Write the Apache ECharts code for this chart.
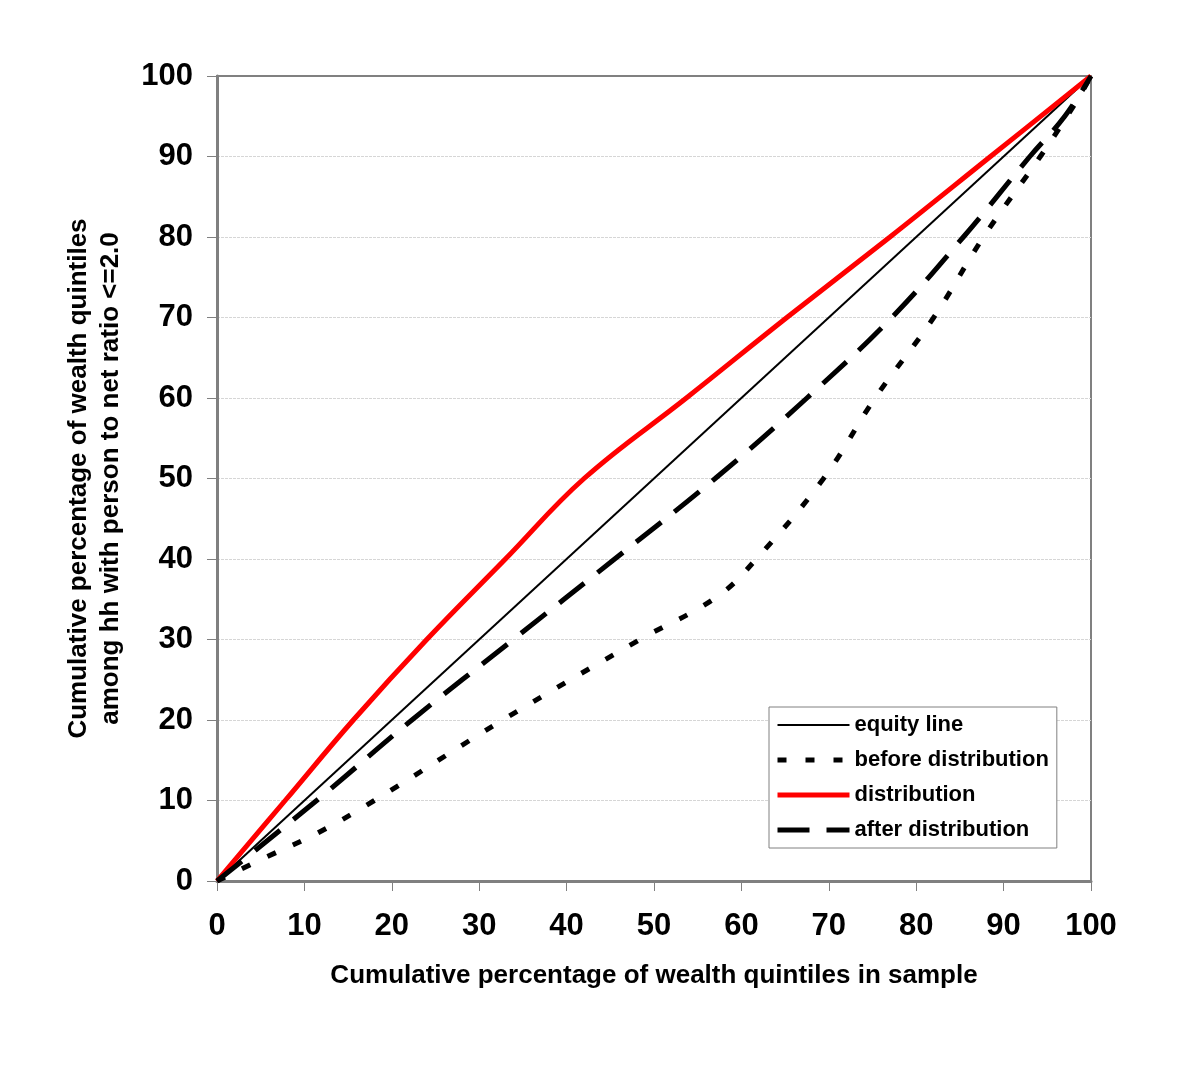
<!DOCTYPE html>
<html>
<head>
<meta charset="utf-8">
<script src="https://cdn.jsdelivr.net/npm/echarts@6/dist/echarts.min.js"></script>
<style>
html,body{margin:0;padding:0;background:#fff;}
#chart{width:1200px;height:1073px;}
</style>
</head>
<body>
<div id="chart"></div>
<script>
var seriesNames = ['equity line', 'before distribution', 'distribution', 'after distribution'];
var xTicks = [0, 10, 20, 30, 40, 50, 60, 70, 80, 90, 100];
var equityLine = [[0, 0], [100, 100]];
var beforeDistribution = [[0, 0], [5.7, 3], [11.4, 5.9], [18, 10], [32.7, 20], [48.4, 30], [57.2, 35.3], [61.7, 40], [69.4, 50], [75.3, 60], [82, 70], [87.7, 80], [94.2, 90], [98.2, 96.6], [100, 100]];
var distribution = [[0, 0], [7.8, 10], [15.6, 20], [24, 30], [33, 40], [42, 50], [53.7, 60], [65.2, 70], [77, 80], [88.5, 90], [100, 100]];
var afterDistribution = [[0, 0], [11.4, 10], [22.3, 20], [33.9, 30], [45.5, 40], [57, 50], [67.5, 60], [77.2, 70], [85.4, 80], [93, 90], [97, 95], [100, 100]];

var FONT = "'Liberation Sans', Arial, sans-serif";
var chart = echarts.init(document.getElementById('chart'));

var styles = [
  { color: '#000', width: 2, type: 'solid' },
  { color: '#000', width: 5, type: [9, 19], cap: 'butt' },
  { color: '#ff0000', width: 5, type: 'solid' },
  { color: '#000', width: 5, type: [32, 17], cap: 'butt' }
];

function axisCommon() {
  return {
    type: 'value', min: 0, max: 100, interval: 10,
    axisLine: { show: true, lineStyle: { color: '#808080', width: 3 } },
    axisTick: { show: true, length: 10, lineStyle: { color: '#808080', width: 1 } },
    axisLabel: { color: '#000', fontFamily: FONT, fontWeight: 'bold', fontSize: 31 },
    nameLocation: 'middle',
    nameTextStyle: { color: '#000', fontFamily: FONT, fontWeight: 'bold', fontSize: 26 }
  };
}

var xAxis = axisCommon();
xAxis.name = 'Cumulative percentage of wealth quintiles in sample';
xAxis.nameGap = 82;
xAxis.axisLabel.margin = 30;
xAxis.splitLine = { show: false };

var yAxis = axisCommon();
yAxis.name = 'Cumulative percentage of wealth quintiles\namong hh with person to net ratio <=2.0';
yAxis.nameGap = 90;
yAxis.nameTextStyle.lineHeight = 32;
yAxis.axisLabel.margin = 24;
yAxis.splitLine = { show: true, showMinLine: false, showMaxLine: false, lineStyle: { color: '#d6d6d6', width: 1, type: [3, 1] } };

var legendData = seriesNames.map(function (n, i) {
  return { name: n, lineStyle: styles[i], itemStyle: { color: 'transparent', borderWidth: 0, opacity: 0 } };
});

chart.setOption({
  animation: false,
  backgroundColor: '#fff',
  grid: { left: 217, right: 109, top: 76, bottom: 192, show: true, borderColor: '#808080', borderWidth: 2, backgroundColor: 'transparent' },
  xAxis: xAxis,
  yAxis: yAxis,
  legend: {
    orient: 'vertical', left: 769, top: 707,
    itemWidth: 72, itemHeight: 14, itemGap: 13,
    padding: [7, 8, 7, 6],
    backgroundColor: '#fff', borderColor: '#808080', borderWidth: 1,
    itemStyle: { color: 'transparent', borderWidth: 0, opacity: 0 },
    textStyle: { color: '#000', fontFamily: FONT, fontWeight: 'bold', fontSize: 22, lineHeight: 22 },
    data: legendData
  },
  series: [
    { name: seriesNames[0], type: 'line', data: equityLine, symbol: 'none',
      lineStyle: styles[0], itemStyle: { color: '#000' } },
    { name: seriesNames[1], type: 'line', data: beforeDistribution, symbol: 'none', smooth: 0.4,
      lineStyle: styles[1], itemStyle: { color: '#000' } },
    { name: seriesNames[2], type: 'line', data: distribution, symbol: 'none', smooth: 0.4,
      lineStyle: styles[2], itemStyle: { color: '#ff0000' } },
    { name: seriesNames[3], type: 'line', data: afterDistribution, symbol: 'none', smooth: 0.4,
      lineStyle: styles[3], itemStyle: { color: '#000' } }
  ]
});
</script>
</body>
</html>
